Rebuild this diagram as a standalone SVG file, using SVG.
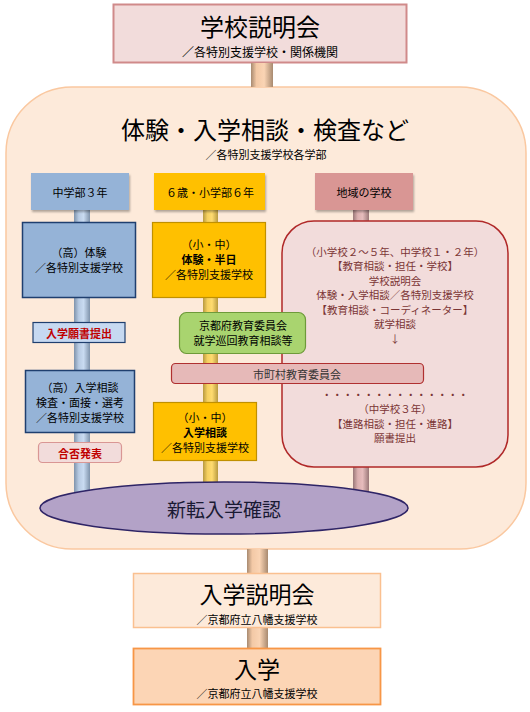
<svg xmlns="http://www.w3.org/2000/svg" width="530" height="712" viewBox="0 0 530 712">
<defs>
<linearGradient id="gTan" x1="0" y1="0" x2="1" y2="0">
<stop offset="0" stop-color="#a88a70"/><stop offset="0.25" stop-color="#f3c9a6"/><stop offset="0.6" stop-color="#fad4b4"/><stop offset="1" stop-color="#a88a70"/>
</linearGradient>
<linearGradient id="gBlue" x1="0" y1="0" x2="1" y2="0">
<stop offset="0" stop-color="#7f93ab"/><stop offset="0.3" stop-color="#b8cbe3"/><stop offset="0.6" stop-color="#c9dbf1"/><stop offset="1" stop-color="#7f93ab"/>
</linearGradient>
<linearGradient id="gYel" x1="0" y1="0" x2="1" y2="0">
<stop offset="0" stop-color="#b89a40"/><stop offset="0.3" stop-color="#f5d060"/><stop offset="0.6" stop-color="#ffdb70"/><stop offset="1" stop-color="#b89a40"/>
</linearGradient>
<linearGradient id="gPink" x1="0" y1="0" x2="1" y2="0">
<stop offset="0" stop-color="#9a7878"/><stop offset="0.3" stop-color="#dcb0b0"/><stop offset="0.6" stop-color="#e6bcbc"/><stop offset="1" stop-color="#9a7878"/>
</linearGradient>
<filter id="sh" x="-10%" y="-10%" width="130%" height="140%">
<feDropShadow dx="1" dy="2" stdDeviation="1.2" flood-color="#000" flood-opacity="0.3"/>
</filter>
</defs>
<style>
text{font-family:"Noto Sans CJK JP","Noto Sans CJK SC",sans-serif;text-anchor:middle;dominant-baseline:central;fill:#000}
.s11{font-size:11px}
.big{font-size:24px}
.red{fill:#c00000;font-weight:bold;font-size:11px}
.rt{fill:#7b3535;font-size:10.5px}
.blue{fill:#95b3d7;stroke:#1f3f6f;stroke-width:1.5}
.gold{fill:#ffc000;stroke:#c09000;stroke-width:1.2}
</style>

<g id="top">
<rect x="113.5" y="4.5" width="293" height="58" fill="#f2dcdb" stroke="#d08a8a" stroke-width="2"/>
<text x="260" y="25" class="big">学校説明会</text>
<text x="260" y="51.5" style="font-size:12px">／各特別支援学校・関係機関</text>
</g>

<g id="panel">
<rect x="6" y="87" width="520" height="462" rx="66" ry="66" fill="#fdeada" stroke="#fac8a0" stroke-width="1.5"/>
<text x="265" y="128" class="big">体験・入学相談・検査など</text>
<text x="266" y="154" class="s11">／各特別支援学校各学部</text>
</g>

<g id="connectors">
<rect x="251" y="63" width="22" height="24" fill="url(#gTan)"/>
<rect x="247" y="549" width="21" height="24" fill="url(#gTan)"/>
<rect x="247" y="628" width="21" height="20" fill="url(#gTan)"/>
<rect x="74" y="210" width="16" height="295" fill="url(#gBlue)"/>
<rect x="203" y="210" width="15" height="290" fill="url(#gYel)"/>
<rect x="353" y="210" width="16" height="295" fill="url(#gPink)"/>
</g>

<g id="h-left">
<rect x="31" y="173" width="98" height="37" fill="#95b3d7" filter="url(#sh)"/>
<text x="80" y="192" class="s11">中学部３年</text>
</g>
<g id="h-mid">
<rect x="154" y="173" width="111" height="37" fill="#ffc000" filter="url(#sh)"/>
<text x="210" y="192" class="s11">６歳・小学部６年</text>
</g>
<g id="h-right">
<rect x="315" y="173" width="98" height="37" fill="#d99694" filter="url(#sh)"/>
<text x="364" y="192" class="s11">地域の学校</text>
</g>

<g id="l-taiken">
<rect x="22.5" y="222.5" width="113" height="75" class="blue"/>
<text x="79" y="252" class="s11">（高）体験</text>
<text x="79" y="267" class="s11">／各特別支援学校</text>
</g>
<g id="l-gansho">
<rect x="33" y="322.5" width="92" height="20" fill="#c6d9f1" stroke="#1f3f6f" stroke-width="1.2"/>
<text x="79" y="333" class="red">入学願書提出</text>
</g>
<g id="l-soudan">
<rect x="25.5" y="370.5" width="109" height="62" class="blue"/>
<text x="80" y="386.5" class="s11">（高）入学相談</text>
<text x="80" y="401.5" class="s11">検査・面接・選考</text>
<text x="80" y="416.5" class="s11">／各特別支援学校</text>
</g>
<g id="l-gouhi">
<rect x="38.5" y="442.5" width="83" height="20" rx="4" fill="#f2dcdb" stroke="#d99694" stroke-width="1.2"/>
<text x="80" y="453" class="red">合否発表</text>
</g>

<g id="m-taiken">
<rect x="152.5" y="222.5" width="113" height="75" class="gold"/>
<text x="209" y="244" class="s11">（小・中）</text>
<text x="209" y="258.5" class="s11" font-weight="bold">体験・半日</text>
<text x="209" y="274" class="s11">／各特別支援学校</text>
</g>
<g id="m-soudan">
<rect x="153.5" y="402.5" width="103" height="58" class="gold"/>
<text x="205" y="416.5" class="s11">（小・中）</text>
<text x="205" y="431.5" class="s11" font-weight="bold">入学相談</text>
<text x="205" y="446.5" class="s11">／各特別支援学校</text>
</g>

<g id="r-school">
<rect x="282" y="221" width="226" height="246" rx="32" ry="32" fill="#f2dcdb" stroke="#b02828" stroke-width="1.5"/>
<text x="395" y="251" class="rt">（小学校２～５年、中学校１・２年）</text>
<text x="395" y="265.5" class="rt">【教育相談・担任・学校】</text>
<text x="395" y="280" class="rt">学校説明会</text>
<text x="395" y="294.5" class="rt">体験・入学相談／各特別支援学校</text>
<text x="395" y="309" class="rt">【教育相談・コーディネーター】</text>
<text x="395" y="323.5" class="rt">就学相談</text>
<text x="395" y="338" class="rt">↓</text>
<text x="395" y="394" class="rt">・・・・・・・・・・・・・・</text>
<text x="395" y="408.5" class="rt">（中学校３年）</text>
<text x="395" y="423" class="rt">【進路相談・担任・進路】</text>
<text x="395" y="437.5" class="rt">願書提出</text>
</g>

<g id="g-kyoto">
<rect x="179.5" y="312.5" width="126" height="41" rx="7" fill="#a9d46f" stroke="#6e9a3a" stroke-width="1.2"/>
<text x="243" y="325" class="s11">京都府教育委員会</text>
<text x="243" y="340" class="s11">就学巡回教育相談等</text>
</g>
<g id="city">
<rect x="171.5" y="363.5" width="252" height="20" rx="4" fill="#e6b9b8" stroke="#b03030" stroke-width="1.2"/>
<text x="297" y="374" class="s11" style="fill:#333">市町村教育委員会</text>
</g>

<g id="kakunin">
<ellipse cx="224" cy="508" rx="184" ry="26" fill="#b3a2c7" stroke="#2e2466" stroke-width="1.5"/>
<text x="224" y="508" style="font-size:19px;fill:#1a1a33">新転入学確認</text>
</g>

<g id="setsumei">
<rect x="133.5" y="573.5" width="247" height="54" fill="#fdeada" stroke="#fac090" stroke-width="1.5"/>
<text x="257" y="593" style="font-size:23px">入学説明会</text>
<text x="257" y="618.5" class="s11">／京都府立八幡支援学校</text>
</g>
<g id="nyugaku">
<rect x="133.5" y="648.5" width="247" height="56" fill="#fcd5b5" stroke="#f79646" stroke-width="1.8"/>
<text x="257" y="668" style="font-size:23px">入学</text>
<text x="257" y="693" class="s11">／京都府立八幡支援学校</text>
</g>
</svg>
